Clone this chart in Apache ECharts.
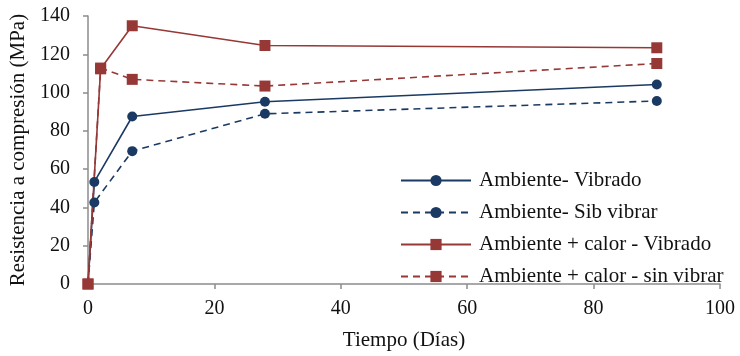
<!DOCTYPE html>
<html>
<head>
<meta charset="utf-8">
<script src="https://cdn.jsdelivr.net/npm/echarts@6/dist/echarts.min.js"></script>
<style>html,body{margin:0;padding:0;background:#fff}#c{width:740px;height:356px}</style>
</head>
<body>
<div id="c"></div>
<script>
const seriesNames = ["Ambiente- Vibrado", "Ambiente- Sib vibrar", "Ambiente + calor - Vibrado", "Ambiente + calor - sin vibrar"];
const daysBlue = [0, 1, 7, 28, 90];
const daysRed = [0, 2, 7, 28, 90];
const ambVibrado = [0, 53.3, 87.5, 95.2, 104.2];
const ambSinVibrar = [0, 42.6, 69.4, 88.9, 95.6];
const calorVibrado = [0, 112.4, 134.9, 124.6, 123.4];
const calorSinVibrar = [0, 112.8, 106.9, 103.4, 115.2];
const xTicks = [0, 20, 40, 60, 80, 100];
const yTicks = [0, 20, 40, 60, 80, 100, 120, 140];

const blue = '#1B3A63';
const red = '#963836';
const font = '"Liberation Serif", "Times New Roman", serif';

function pairs(xs, ys){ return xs.map((x,i)=>[x, ys[i]]); }

const chart = echarts.init(document.getElementById('c'), null, {renderer:'canvas'});
const mk = (name, xs, ys, color, dashed, symbol, size) => ({
  name, type:'line', data: pairs(xs, ys), symbol, symbolSize: size,
  itemStyle:{color}, lineStyle:{color, width:1.6, type: dashed ? [7,5] : 'solid'},
  z: 2
});
chart.setOption({
  animation:false,
  textStyle:{fontFamily:font},
  grid:{left:88, right:20, top:16, bottom:70},
  xAxis:{type:'value', min:xTicks[0], max:xTicks[xTicks.length-1], interval:20,
    name:'Tiempo (Días)', nameLocation:'middle', nameGap:46,
    nameTextStyle:{fontFamily:font, fontSize:21, color:'#111'},
    axisLine:{lineStyle:{color:'#8c8c8c', width:1.5}},
    axisTick:{show:true, length:5, lineStyle:{color:'#8c8c8c', width:1.5}},
    axisLabel:{fontFamily:font, fontSize:20, color:'#111', margin:15},
    splitLine:{show:false}},
  yAxis:{type:'value', min:yTicks[0], max:yTicks[yTicks.length-1], interval:20,
    name:'Resistencia a compresión (MPa)', nameLocation:'middle', nameGap:57,
    nameTextStyle:{fontFamily:font, fontSize:21, color:'#111'},
    axisLine:{show:true, lineStyle:{color:'#8c8c8c', width:1.5}},
    axisTick:{show:true, length:5, lineStyle:{color:'#8c8c8c', width:1.5}},
    axisLabel:{fontFamily:font, fontSize:20, color:'#111', margin:18},
    splitLine:{show:false}},
  legend:{left:400, top:170, orient:'vertical', itemWidth:70, itemHeight:14, itemGap:11,
    padding:0,
    textStyle:{fontFamily:font, fontSize:21, color:'#111', padding:[0,0,0,3]},
    data: seriesNames},
  series:[
    mk(seriesNames[0], daysBlue, ambVibrado, blue, false, 'circle', 10),
    mk(seriesNames[1], daysBlue, ambSinVibrar, blue, true, 'circle', 10),
    mk(seriesNames[2], daysRed, calorVibrado, red, false, 'rect', 11),
    mk(seriesNames[3], daysRed, calorSinVibrar, red, true, 'rect', 11)
  ]
});
</script>
</body>
</html>
